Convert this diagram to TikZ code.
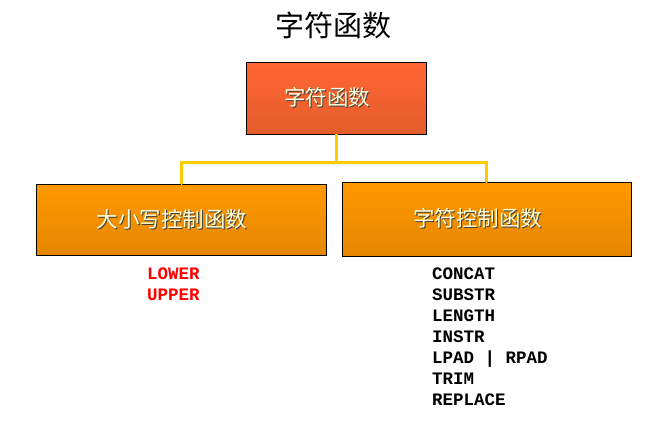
\documentclass[tikz,border=0pt]{standalone}
\usepackage{fontspec}
\setmonofont{Liberation Mono}
\newfontfamily\cjk{Noto Sans CJK SC}
\usetikzlibrary{positioning,calc}
\definecolor{topfill}{HTML}{FF6633}
\definecolor{topdark}{HTML}{E45C2C}
\definecolor{subfill}{HTML}{FF9900}
\definecolor{subdark}{HTML}{E68600}
\definecolor{linkyellow}{HTML}{FFCC00}
\definecolor{boxtext}{HTML}{FFFFD9}
\newcommand{\shadowed}[1]{\makebox[0pt][l]{\hspace{1.2pt}\raisebox{-1.2pt}{\color{black!75}#1}}#1\kern18pt}
\tikzset{
  fnbox/.style={draw=black, line width=0.9pt, inner sep=0pt, text=boxtext,
    font=\cjk\fontsize{21.5}{24}\selectfont},
  link/.style={linkyellow, line width=3pt},
  fnname/.style={anchor=base west, inner sep=0pt,
    font=\ttfamily\bfseries\fontsize{17.5}{21}\selectfont}
}

\begin{document}
\begin{tikzpicture}[x=1pt,y=-1pt]
    \useasboundingbox (0,0) rectangle (672,426);
    \node (title) at (333,25) {\cjk\fontsize{29}{32}\selectfont 字符函数};
    % boxes
    \node[fnbox, minimum width=180, minimum height=72, top color=topfill, bottom color=topdark] (top) at (336,98) {\shadowed{字符函数}};
    \node[fnbox, minimum width=290, minimum height=71, top color=subfill, bottom color=subdark] (case) at (181,219.5) {\shadowed{大小写控制函数}};
    \node[fnbox, minimum width=289, minimum height=74, top color=subfill, bottom color=subdark] (char) at (486.5,219) {\shadowed{字符控制函数}};
    % connectors
    \draw[link] (top.south) -- ++(0,28) coordinate (fork);
    \draw[link, line cap=round] (case.north) |- (fork) -| (char.north);
    % function names
    \node[fnname, text=red] (lower) at (147,279) {LOWER};
    \node[fnname, text=red] (upper) at (147,300) {UPPER};
    \foreach \name [count=\i] in {CONCAT,SUBSTR,LENGTH,INSTR,LPAD | RPAD,TRIM,REPLACE}
      \node[fnname] (fn\i) at (432,279+21*\i-21) {\name};
\end{tikzpicture}
\end{document}
